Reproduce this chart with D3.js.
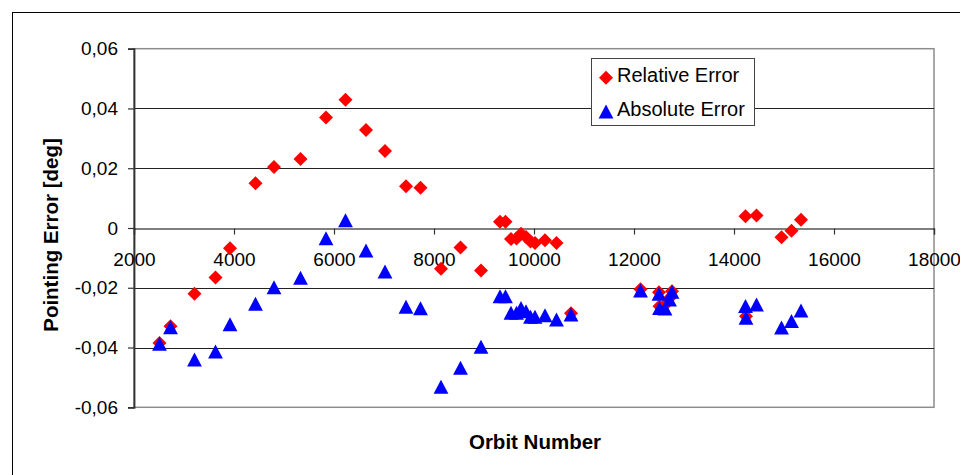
<!DOCTYPE html>
<html lang="en">
<head>
  <meta charset="utf-8">
  <title>Pointing Error vs Orbit Number</title>
  <script src="https://d3js.org/d3.v7.min.js"></script>
  <style>
    body { margin: 0; background: #fff; }
    svg { display: block; font-family: "Liberation Sans", Arial, sans-serif; }
  </style>
</head>
<body>
<script>
// orbit numbers, one entry per measurement
var orbits = [2510, 2730, 3210, 3630, 3920, 4430, 4800, 5330, 5840, 6230,
              6640, 7020, 7440, 7730, 8140, 8530, 8940, 9320, 9430, 9540,
              9650, 9740, 9840, 9930, 10020, 10220, 10450, 10740, 12130, 12500,
              12510, 12620, 12710, 12760, 14230, 14240, 14450, 14950, 15150, 15340];

// relative error [deg]
var relErr = [-0.0385, -0.0329, -0.0220, -0.0166, -0.0068, 0.0150, 0.0204, 0.0231, 0.0370, 0.0429,
              0.0328, 0.0258, 0.0140, 0.0135, -0.0136, -0.0065, -0.0142, 0.0021, 0.0021, -0.0037,
              -0.0035, -0.0019, -0.0030, -0.0045, -0.0050, -0.0041, -0.0050, -0.0285, -0.0205, -0.0215,
              -0.0262, -0.0258, -0.0235, -0.0212, 0.0039, -0.0295, 0.0042, -0.0031, -0.0009, 0.0028];

// absolute error [deg]
var absErr = [-0.0388, -0.0333, -0.0441, -0.0414, -0.0323, -0.0254, -0.0199, -0.0167, -0.0035, 0.0025,
              -0.0076, -0.0146, -0.0264, -0.0269, -0.0532, -0.0468, -0.0398, -0.0229, -0.0229, -0.0284,
              -0.0284, -0.0268, -0.0279, -0.0298, -0.0298, -0.0293, -0.0307, -0.0290, -0.0210, -0.0221,
              -0.0268, -0.0270, -0.0240, -0.0214, -0.0262, -0.0301, -0.0257, -0.0334, -0.0312, -0.0277];

var xTicks = [2000, 4000, 6000, 8000, 10000, 12000, 14000, 16000, 18000];
var yTicks = [-0.06, -0.04, -0.02, 0, 0.02, 0.04, 0.06];
var seriesNames = ["Relative Error", "Absolute Error"];

var w = 960, h = 475;

var x = d3.scaleLinear().domain([2000, 18000]).range([134, 934]);
var y = d3.scaleLinear().domain([-0.06, 0.06]).range([407.3, 48.7]);

var svg = d3.select("body").append("svg")
  .attr("width", w)
  .attr("height", h);

// outer chart frame (runs off the right and bottom edge)
svg.append("rect")
  .attr("x", 12.5).attr("y", 12.5)
  .attr("width", 970).attr("height", 500)
  .attr("fill", "#fff")
  .attr("stroke", "#000")
  .attr("stroke-width", 1);

// plot area border
svg.append("rect")
  .attr("x", x(2000)).attr("y", y(0.06))
  .attr("width", x(18000) - x(2000))
  .attr("height", y(-0.06) - y(0.06))
  .attr("fill", "#fff")
  .attr("stroke", "#8c8c8c")
  .attr("stroke-width", 1.5);

// horizontal grid lines
svg.selectAll("line.grid")
  .data(yTicks.filter(function(d) { return d !== 0.06 && d !== -0.06 && d !== 0; }))
  .enter()
  .append("line")
  .attr("class", "grid")
  .attr("x1", x(2000)).attr("x2", x(18000))
  .attr("y1", function(d) { return Math.round(y(d)) + 0.5; })
  .attr("y2", function(d) { return Math.round(y(d)) + 0.5; })
  .attr("stroke", "#222")
  .attr("stroke-width", 1);

function fmtY(d) {
  return d === 0 ? "0" : d.toFixed(2).replace(".", ",");
}

// y axis
var yAxis = svg.append("g")
  .attr("transform", "translate(" + x(2000) + ",0)")
  .call(d3.axisLeft(y).tickValues(yTicks).tickFormat(fmtY).tickSize(6).tickPadding(10));
yAxis.select(".domain").attr("stroke", "#333").attr("stroke-width", 1.8);
yAxis.selectAll(".tick line").attr("stroke", "#333").attr("stroke-width", 1.2);
yAxis.selectAll(".tick text")
  .attr("font-size", "19px")
  .attr("font-family", "Liberation Sans, Arial, sans-serif")
  .attr("fill", "#000");

// x axis drawn at y = 0
var xAxis = svg.append("g")
  .attr("transform", "translate(0," + (Math.round(y(0)) + 0.5) + ")")
  .call(d3.axisBottom(x).tickValues(xTicks).tickFormat(d3.format("d")).tickSize(6).tickPadding(18));
xAxis.select(".domain").attr("stroke", "#000").attr("stroke-width", 1.2);
xAxis.selectAll(".tick line").attr("stroke", "#333").attr("stroke-width", 1.2);
xAxis.selectAll(".tick text")
  .attr("font-size", "19px")
  .attr("font-family", "Liberation Sans, Arial, sans-serif")
  .attr("fill", "#000");

// marker shapes
var diamond = "M0,-7L7,0L0,7L-7,0Z";
var triangle = "M0,-7.2L7.4,6.8L-7.4,6.8Z";

var rows = orbits.map(function(o, i) {
  return { orbit: o, rel: relErr[i], abs: absErr[i] };
});

svg.selectAll("path.rel")
  .data(rows)
  .enter()
  .append("path")
  .attr("class", "rel")
  .attr("d", diamond)
  .attr("transform", function(d) { return "translate(" + x(d.orbit) + "," + y(d.rel) + ")"; })
  .attr("fill", "#ff0000");

svg.selectAll("path.abs")
  .data(rows)
  .enter()
  .append("path")
  .attr("class", "abs")
  .attr("d", triangle)
  .attr("transform", function(d) { return "translate(" + x(d.orbit) + "," + y(d.abs) + ")"; })
  .attr("fill", "#0000ff");

// axis titles
svg.append("text")
  .attr("x", 535)
  .attr("y", 449)
  .attr("text-anchor", "middle")
  .attr("font-size", "20.5px")
  .attr("font-weight", "bold")
  .text("Orbit Number");

svg.append("text")
  .attr("text-anchor", "middle")
  .attr("font-size", "20.5px")
  .attr("font-weight", "bold")
  .attr("transform", "translate(58,235) rotate(-90)")
  .text("Pointing Error [deg]");

// legend
var legend = svg.append("g");
legend.append("rect")
  .attr("x", 591.5).attr("y", 58.5)
  .attr("width", 163).attr("height", 67)
  .attr("fill", "#fff")
  .attr("stroke", "#444")
  .attr("stroke-width", 1);

var legendShapes = [diamond, triangle];
var legendColors = ["#ff0000", "#0000ff"];
seriesNames.forEach(function(name, i) {
  var cy = 77.7 + i * 34;
  legend.append("path")
    .attr("d", legendShapes[i])
    .attr("transform", "translate(606," + cy + ")")
    .attr("fill", legendColors[i]);
  legend.append("text")
    .attr("x", 617)
    .attr("y", 82 + i * 34)
    .attr("font-size", "20px")
    .text(name);
});
</script>
</body>
</html>
